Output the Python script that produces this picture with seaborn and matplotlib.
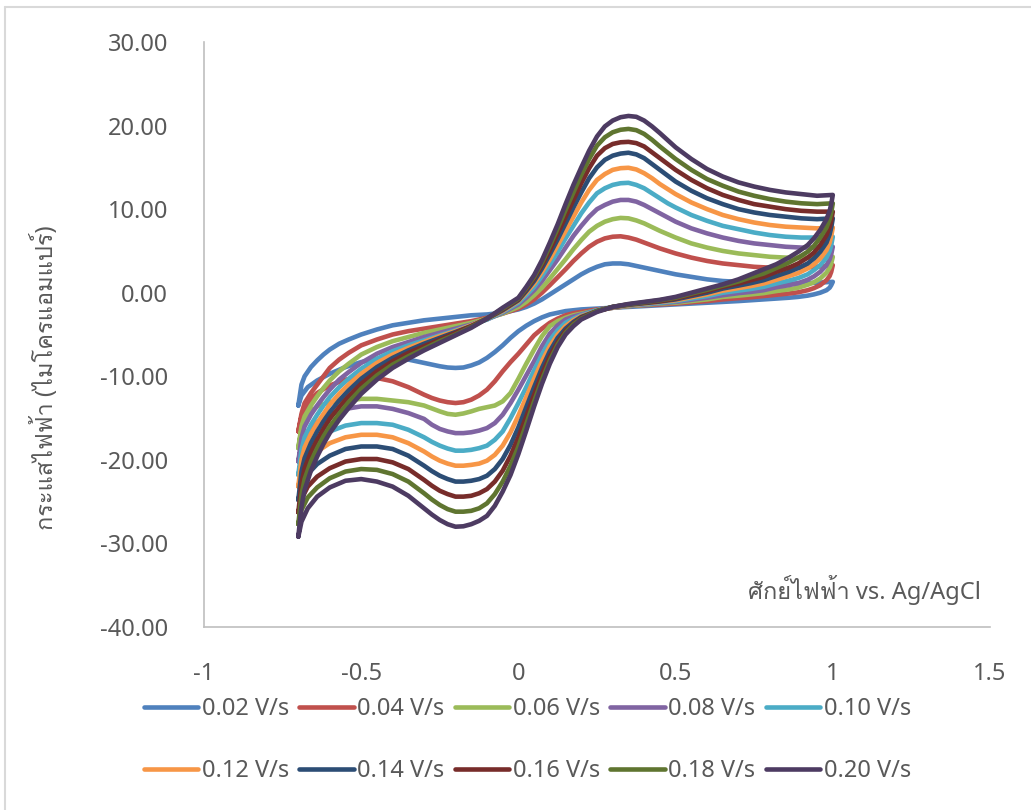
import matplotlib
matplotlib.use("Agg")
import numpy as np
import pandas as pd
import seaborn as sns
import matplotlib.pyplot as plt
from matplotlib import font_manager
from matplotlib.ft2font import FT2Font
from matplotlib.lines import Line2D
from matplotlib.ticker import FixedLocator, FuncFormatter

# ---------------------------------------------------------------- data
rates = ["0.02 V/s", "0.04 V/s", "0.06 V/s", "0.08 V/s", "0.10 V/s",
         "0.12 V/s", "0.14 V/s", "0.16 V/s", "0.18 V/s", "0.20 V/s"]

# potential grid of the anodic sweep (-0.7 -> 1.0 V)
e_fwd = [-0.70, -0.69, -0.68, -0.66, -0.64, -0.62, -0.60, -0.57, -0.54, -0.50,
         -0.45, -0.40, -0.35, -0.30, -0.25, -0.20, -0.15, -0.10, -0.05,
         0.00, 0.025, 0.05, 0.075, 0.10, 0.125, 0.15, 0.175, 0.20, 0.225,
         0.25, 0.275, 0.30, 0.325, 0.35, 0.375, 0.40, 0.425, 0.45, 0.475, 0.50,
         0.55, 0.60, 0.65, 0.70, 0.75, 0.80, 0.85, 0.90, 0.95, 1.00]

# potential grid of the cathodic sweep (1.0 -> -0.7 V)
e_rev = [1.00, 0.995, 0.99, 0.98, 0.96, 0.94, 0.92, 0.89, 0.86, 0.82,
         0.78, 0.74, 0.70, 0.65, 0.60, 0.55, 0.50, 0.45, 0.40, 0.35, 0.30, 0.25,
         0.20, 0.175, 0.15, 0.125, 0.10, 0.075, 0.05, 0.025, 0.00, -0.025,
         -0.05, -0.075, -0.10, -0.125, -0.15, -0.175, -0.20, -0.225, -0.25,
         -0.275, -0.30,
         -0.35, -0.40, -0.45, -0.50, -0.55, -0.60, -0.64, -0.67, -0.69, -0.70]

# current (uA), anodic sweep
i_fwd_002 = [-13.5, -11.0, -10.0, -8.9, -8.1, -7.4, -6.8, -6.1, -5.6, -5.0, -4.4, -3.9, -3.6, -3.3, -3.1, -2.9, -2.7, -2.6, -2.4,
             -2.0, -1.7, -1.3, -0.8, -0.2, 0.4, 1.0, 1.6, 2.2, 2.7, 3.1, 3.4, 3.5, 3.5, 3.4, 3.2, 3.0, 2.8, 2.6, 2.4, 2.2,
             1.9, 1.6, 1.4, 1.3, 1.2, 1.1, 1.1, 1.1, 1.2, 1.3]
i_fwd_004 = [-16.6, -14.5, -13.2, -12.0, -11.0, -10.0, -9.0, -8.0, -7.2, -6.3, -5.6, -5.0, -4.6, -4.3, -4.0, -3.7, -3.4, -3.0, -2.5,
             -1.9, -1.4, -0.8, 0.0, 0.9, 1.85, 2.8, 3.8, 4.7, 5.5, 6.1, 6.5, 6.7, 6.75, 6.6, 6.35, 6.0, 5.65, 5.3, 5.0, 4.7,
             4.2, 3.8, 3.5, 3.3, 3.1, 3.0, 3.0, 3.0, 3.1, 3.3]
i_fwd_006 = [-18.6, -16.0, -14.8, -13.5, -12.4, -11.4, -10.5, -9.4, -8.5, -7.4, -6.5, -5.8, -5.3, -4.8, -4.4, -4.0, -3.6, -3.1, -2.5,
             -1.7, -1.1, -0.3, 0.6, 1.7, 2.85, 4.0, 5.2, 6.3, 7.3, 8.0, 8.5, 8.8, 8.95, 8.9, 8.65, 8.3, 7.85, 7.4, 7.0, 6.6,
             5.9, 5.4, 5.0, 4.7, 4.5, 4.3, 4.2, 4.2, 4.2, 4.3]
i_fwd_008 = [-20.2, -17.4, -16.0, -14.6, -13.5, -12.5, -11.6, -10.4, -9.5, -8.4, -7.3, -6.5, -5.9, -5.3, -4.8, -4.3, -3.8, -3.2, -2.4,
             -1.4, -0.6, 0.3, 1.4, 2.7, 4.0, 5.4, 6.8, 8.0, 9.1, 10.0, 10.5, 10.9, 11.1, 11.1, 10.9, 10.5, 10.0, 9.5, 9.0, 8.5,
             7.7, 7.1, 6.6, 6.2, 5.9, 5.7, 5.5, 5.4, 5.4, 5.5]
i_fwd_010 = [-21.8, -18.8, -17.3, -15.8, -14.6, -13.5, -12.5, -11.3, -10.3, -9.1, -7.9, -7.0, -6.3, -5.7, -5.1, -4.5, -3.9, -3.2, -2.3,
             -1.2, -0.3, 0.7, 2.0, 3.4, 4.9, 6.5, 8.0, 9.5, 10.8, 11.9, 12.5, 12.9, 13.1, 13.15, 12.9, 12.5, 11.9, 11.3, 10.7, 10.2,
             9.3, 8.6, 8.0, 7.6, 7.2, 6.9, 6.7, 6.6, 6.6, 6.7]
i_fwd_012 = [-23.2, -20.0, -18.5, -16.9, -15.6, -14.5, -13.4, -12.1, -11.0, -9.7, -8.4, -7.4, -6.6, -5.9, -5.2, -4.6, -3.9, -3.1, -2.2,
             -1.0, 0.0, 1.1, 2.5, 4.0, 5.7, 7.4, 9.1, 10.8, 12.3, 13.5, 14.2, 14.7, 14.9, 14.95, 14.75, 14.3, 13.7, 13.0, 12.4, 11.8,
             10.8, 10.0, 9.3, 8.8, 8.4, 8.1, 7.9, 7.8, 7.7, 7.8]
i_fwd_014 = [-24.8, -21.4, -19.8, -18.0, -16.6, -15.4, -14.3, -12.9, -11.7, -10.3, -8.9, -7.8, -6.9, -6.1, -5.4, -4.7, -4.0, -3.1, -2.1,
             -0.9, 0.2, 1.4, 2.9, 4.6, 6.4, 8.3, 10.2, 12.0, 13.7, 15.0, 15.9, 16.4, 16.65, 16.75, 16.55, 16.1, 15.4, 14.7, 14.0, 13.3,
             12.2, 11.3, 10.6, 10.0, 9.6, 9.3, 9.1, 8.9, 8.8, 8.9]
i_fwd_016 = [-26.3, -22.8, -21.0, -19.1, -17.6, -16.3, -15.1, -13.7, -12.4, -10.9, -9.4, -8.2, -7.2, -6.4, -5.6, -4.8, -4.0, -3.1, -2.0,
             -0.8, 0.4, 1.7, 3.3, 5.1, 7.1, 9.1, 11.1, 13.1, 14.9, 16.4, 17.3, 17.8, 18.0, 18.05, 17.9, 17.5, 16.8, 16.1, 15.4, 14.7,
             13.5, 12.5, 11.7, 11.1, 10.6, 10.3, 10.0, 9.8, 9.7, 9.7]
i_fwd_018 = [-27.7, -24.2, -22.3, -20.2, -18.6, -17.2, -16.0, -14.5, -13.1, -11.5, -9.9, -8.6, -7.6, -6.7, -5.8, -5.0, -4.1, -3.1, -1.9,
             -0.7, 0.55, 1.9, 3.6, 5.6, 7.7, 9.9, 12.0, 14.1, 16.0, 17.6, 18.6, 19.2, 19.5, 19.6, 19.45, 19.0, 18.3, 17.5, 16.75, 16.0,
             14.7, 13.6, 12.8, 12.1, 11.6, 11.2, 10.9, 10.7, 10.6, 10.7]
i_fwd_020 = [-29.2, -25.6, -23.6, -21.3, -19.6, -18.1, -16.8, -15.2, -13.8, -12.1, -10.4, -9.0, -7.9, -6.9, -6.0, -5.1, -4.2, -3.1, -1.8,
             -0.6, 0.7, 2.1, 3.9, 6.0, 8.2, 10.6, 12.9, 15.0, 17.0, 18.7, 19.9, 20.6, 21.0, 21.15, 21.05, 20.6, 19.9, 19.1, 18.25, 17.4,
             16.0, 14.8, 13.9, 13.2, 12.7, 12.3, 12.0, 11.8, 11.6, 11.7]

# current (uA), cathodic sweep
i_rev_002 = [1.3, 0.9, 0.6, 0.3, 0.0, -0.2, -0.35, -0.5, -0.6, -0.7, -0.8, -0.9, -1.0, -1.1, -1.2, -1.3, -1.4, -1.5, -1.6, -1.7, -1.8, -1.9,
             -2.0, -2.1, -2.2, -2.4, -2.6, -2.95, -3.4, -3.95, -4.6, -5.4, -6.3, -7.1, -7.8, -8.35, -8.7, -8.95, -9.0, -8.95, -8.8, -8.6, -8.4,
             -8.0, -7.8, -7.9, -8.3, -8.9, -9.7, -10.5, -11.3, -12.3, -13.5]
i_rev_004 = [3.3, 2.5, 2.0, 1.5, 0.9, 0.55, 0.3, 0.05, -0.1, -0.25, -0.4, -0.55, -0.65, -0.8, -1.0, -1.15, -1.3, -1.4, -1.5, -1.6, -1.8, -2.0,
             -2.3, -2.45, -2.7, -3.1, -3.6, -4.3, -5.1, -6.2, -7.3, -8.3, -9.4, -10.6, -11.6, -12.3, -12.8, -13.1, -13.2, -13.1, -12.9, -12.6, -12.2,
             -11.3, -10.6, -10.2, -10.1, -10.4, -11.1, -12.0, -13.2, -14.8, -16.6]
i_rev_006 = [4.3, 3.5, 3.0, 2.4, 1.7, 1.25, 0.95, 0.6, 0.4, 0.2, -0.05, -0.2, -0.35, -0.5, -0.8, -1.0, -1.2, -1.3, -1.45, -1.6, -1.8, -2.1,
             -2.5, -2.7, -3.0, -3.4, -4.0, -5.2, -6.8, -8.5, -10.3, -12.0, -13.0, -13.5, -13.7, -13.9, -14.2, -14.45, -14.6, -14.5, -14.2, -13.85, -13.5,
             -13.1, -12.9, -12.7, -12.7, -12.9, -13.1, -13.6, -14.6, -16.4, -18.6]
i_rev_008 = [5.5, 4.6, 4.0, 3.3, 2.5, 1.95, 1.55, 1.15, 0.9, 0.65, 0.3, 0.1, -0.05, -0.3, -0.6, -0.85, -1.1, -1.25, -1.4, -1.55, -1.8, -2.1,
             -2.6, -2.85, -3.2, -3.9, -4.9, -6.4, -8.2, -9.9, -11.6, -13.2, -14.6, -15.6, -16.2, -16.5, -16.7, -16.8, -16.8, -16.6, -16.3, -15.8, -15.1,
             -14.4, -13.9, -13.6, -13.6, -13.9, -14.6, -15.5, -16.7, -18.3, -20.2]
i_rev_010 = [6.7, 5.7, 5.0, 4.2, 3.3, 2.7, 2.2, 1.75, 1.45, 1.1, 0.7, 0.45, 0.25, 0.0, -0.4, -0.7, -1.0, -1.2, -1.35, -1.5, -1.75, -2.1,
             -2.7, -3.1, -3.6, -4.5, -5.7, -7.4, -9.3, -11.3, -13.2, -15.0, -16.6, -17.6, -18.3, -18.6, -18.8, -18.9, -18.9, -18.65, -18.3, -17.85, -17.3,
             -16.4, -15.8, -15.6, -15.6, -15.9, -16.6, -17.5, -18.7, -20.2, -21.8]
i_rev_012 = [7.8, 6.8, 6.0, 5.1, 4.1, 3.4, 2.9, 2.35, 2.0, 1.55, 1.1, 0.8, 0.55, 0.25, -0.2, -0.55, -0.9, -1.1, -1.3, -1.5, -1.75, -2.2,
             -2.8, -3.3, -4.0, -5.0, -6.4, -8.2, -10.3, -12.5, -14.7, -16.7, -18.3, -19.4, -20.1, -20.45, -20.6, -20.7, -20.7, -20.45, -20.1, -19.6, -19.0,
             -18.0, -17.3, -17.0, -17.0, -17.3, -18.0, -19.0, -20.2, -21.6, -23.2]
i_rev_014 = [8.9, 7.8, 7.0, 6.0, 4.9, 4.1, 3.5, 2.95, 2.5, 2.0, 1.5, 1.15, 0.85, 0.5, 0.0, -0.4, -0.8, -1.05, -1.25, -1.45, -1.7, -2.2,
             -2.9, -3.5, -4.3, -5.4, -7.0, -9.0, -11.3, -13.7, -16.1, -18.2, -19.9, -21.1, -21.9, -22.3, -22.5, -22.6, -22.6, -22.3, -21.9, -21.35, -20.7,
             -19.5, -18.7, -18.4, -18.4, -18.7, -19.5, -20.5, -21.7, -23.2, -24.8]
i_rev_016 = [9.7, 8.6, 7.9, 6.9, 5.7, 4.8, 4.2, 3.5, 3.0, 2.5, 1.9, 1.5, 1.1, 0.7, 0.2, -0.25, -0.7, -1.0, -1.2, -1.4, -1.7, -2.2,
             -3.0, -3.7, -4.6, -5.9, -7.6, -9.7, -12.2, -14.8, -17.3, -19.5, -21.3, -22.6, -23.5, -24.0, -24.3, -24.4, -24.4, -24.1, -23.7, -23.1, -22.4,
             -21.1, -20.3, -19.9, -19.9, -20.2, -21.0, -22.0, -23.2, -24.7, -26.3]
i_rev_018 = [10.7, 9.6, 8.8, 7.8, 6.6, 5.6, 4.9, 4.2, 3.6, 2.95, 2.3, 1.85, 1.35, 0.85, 0.35, -0.1, -0.6, -0.9, -1.15, -1.4, -1.7, -2.2,
             -3.1, -3.8, -4.8, -6.2, -8.1, -10.4, -13.0, -15.7, -18.4, -20.7, -22.6, -24.1, -25.2, -25.8, -26.1, -26.2, -26.2, -25.9, -25.4, -24.75, -24.0,
             -22.6, -21.7, -21.2, -21.1, -21.4, -22.2, -23.3, -24.5, -26.0, -27.7]
i_rev_020 = [11.7, 10.6, 9.8, 8.8, 7.5, 6.5, 5.7, 4.9, 4.2, 3.4, 2.8, 2.2, 1.6, 1.0, 0.5, 0.0, -0.5, -0.85, -1.1, -1.35, -1.7, -2.3,
             -3.2, -4.0, -5.0, -6.5, -8.5, -10.9, -13.6, -16.5, -19.3, -21.8, -23.8, -25.5, -26.7, -27.3, -27.7, -27.95, -28.0, -27.7, -27.2, -26.55, -25.8,
             -24.3, -23.2, -22.6, -22.3, -22.5, -23.3, -24.4, -25.8, -27.4, -29.2]

x_ticks = [-1, -0.5, 0, 0.5, 1, 1.5]
y_ticks = [-40, -30, -20, -10, 0, 10, 20, 30]

x_title = "ศักย์ไฟฟ้า vs. Ag/AgCl"
y_title = "กระแสไฟฟ้า (ไมโครแอมแปร์)"

colors = ["#4F81BD", "#C0504D", "#9BBB59", "#8064A2", "#4BACC6",
          "#F79646", "#2C4D75", "#772C2A", "#5F7530", "#4D3B62"]

# ---------------------------------------------------------------- frame
fwd_sets = [i_fwd_002, i_fwd_004, i_fwd_006, i_fwd_008, i_fwd_010,
            i_fwd_012, i_fwd_014, i_fwd_016, i_fwd_018, i_fwd_020]
rev_sets = [i_rev_002, i_rev_004, i_rev_006, i_rev_008, i_rev_010,
            i_rev_012, i_rev_014, i_rev_016, i_rev_018, i_rev_020]

frames = []
for name, fw, rv in zip(rates, fwd_sets, rev_sets):
    frames.append(pd.DataFrame({"E": list(e_fwd) + list(e_rev),
                                "I": list(fw) + list(rv),
                                "rate": name}))
df = pd.concat(frames, ignore_index=True)

# ---------------------------------------------------------------- style
sns.set_theme(style="white")

# faces that carry Thai script, used as glyph fallback
thai_faces = []
for entry in font_manager.fontManager.ttflist:
    try:
        if 0x0E01 in FT2Font(entry.fname).get_charmap() and entry.name not in thai_faces:
            thai_faces.append(entry.name)
    except Exception:
        pass

plt.rcParams["font.family"] = ["Noto Sans"] + thai_faces + ["DejaVu Sans"]
plt.rcParams["axes.unicode_minus"] = False

W, H = 1031, 810
fig = plt.figure(figsize=(W / 100, H / 100), dpi=100)
fig.patch.set_facecolor("white")

x0, x1, y_top, y_bot = 204, 990, 42, 627
ax = fig.add_axes([x0 / W, 1 - y_bot / H, (x1 - x0) / W, (y_bot - y_top) / H])

sns.lineplot(data=df, x="E", y="I", hue="rate", hue_order=rates,
             palette=colors, sort=False, estimator=None, lw=3.3,
             legend=False, ax=ax)
for ln in ax.get_lines():
    ln.set_solid_capstyle("round")
    ln.set_solid_joinstyle("round")

ax.set_xlim(-1, 1.5)
ax.set_ylim(-40, 30)
ax.xaxis.set_major_locator(FixedLocator(x_ticks))
ax.yaxis.set_major_locator(FixedLocator(y_ticks))
ax.xaxis.set_major_formatter(FuncFormatter(lambda v, p: "%g" % v))
ax.yaxis.set_major_formatter(FuncFormatter(lambda v, p: "%.2f" % v))
ax.tick_params(axis="both", length=0, labelsize=17, labelcolor="#595959")
ax.tick_params(axis="x", pad=25)
ax.tick_params(axis="y", pad=26)
ax.set_xlabel("")
ax.set_ylabel("")
ax.grid(False)
for side in ("top", "right"):
    ax.spines[side].set_visible(False)
for side in ("left", "bottom"):
    ax.spines[side].set_color("#BFBFBF")
    ax.spines[side].set_linewidth(1.2)

fig.text(45 / W, 1 - 378 / H, y_title, rotation=90, ha="center", va="center",
         color="#595959", fontsize=17)
fig.text(981 / W, 1 - 590 / H, x_title, ha="right", va="center",
         color="#595959", fontsize=17)

# legend laid out row by row, five entries per row
lines = ax.get_lines()[:len(rates)]
order = [0, 5, 1, 6, 2, 7, 3, 8, 4, 9]
fig.legend([lines[k] for k in order], [rates[k] for k in order],
           ncol=5, loc="upper left", bbox_to_anchor=(144 / W, 1 - 697 / H),
           frameon=False, fontsize=17, labelcolor="#595959",
           handlelength=2.3, handletextpad=0.15, columnspacing=0.44,
           labelspacing=1.62, borderpad=0, borderaxespad=0)

# thin chart border
fig.add_artist(Line2D([5 / W, 5 / W], [0, 1 - 7 / H], transform=fig.transFigure,
                      color="#D9D9D9", lw=1.5))
fig.add_artist(Line2D([5 / W, 1], [1 - 7 / H, 1 - 7 / H], transform=fig.transFigure,
                      color="#D9D9D9", lw=1.5))

fig.savefig("out.png", dpi=100, facecolor="white")
